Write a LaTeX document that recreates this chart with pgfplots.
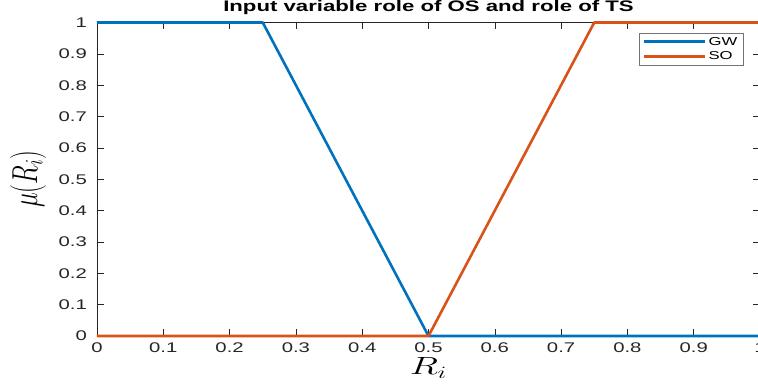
\documentclass[border=0pt]{standalone}
\usepackage{fontspec}
\setmainfont[FakeStretch=1.45]{Liberation Sans}
\usepackage{graphicx}
\usepackage{pgfplots}
\pgfplotsset{compat=1.18}
\definecolor{mblue}{RGB}{0,114,189}
\definecolor{morange}{RGB}{217,83,25}
\definecolor{axgray}{RGB}{38,38,38}
\begin{document}
\begin{tikzpicture}
\useasboundingbox (-97pt,-51pt) rectangle (661pt,336pt);
\begin{axis}[
  at={(0pt,0pt)}, anchor=south west,
  scale only axis, width=663pt, height=313.5pt,
  xmin=0, xmax=1, ymin=0, ymax=1,
  clip=false,
  xtick={0,0.1,0.2,0.3,0.4,0.5,0.6,0.7,0.8,0.9,1},
  ytick={0,0.1,0.2,0.3,0.4,0.5,0.6,0.7,0.8,0.9,1},
  xticklabels={0,0.1,0.2,0.3,0.4,0.5,0.6,0.7,0.8,0.9,1},
  yticklabels={0,0.1,0.2,0.3,0.4,0.5,0.6,0.7,0.8,0.9,1},
  tick pos=both, tick align=inside,
  major tick length=7pt,
  axis line style={axgray, line width=0.6pt},
  tick style={axgray, line width=0.6pt},
  ticklabel style={font=\fontsize{14}{16}\selectfont, text=axgray},
  xticklabel style={inner sep=0pt, anchor=north, yshift=-7pt},
  yticklabel style={inner sep=0pt, anchor=east, xshift=-10pt},
  title={Input variable role of OS and role of TS},
  title style={font=\fontsize{15.3}{18}\selectfont\bfseries, at={(0.5,1)}, anchor=base, yshift=5.2pt, inner sep=0pt},
  xlabel={\scalebox{1.5}[1]{$R_i$}},
  xlabel style={font=\fontsize{25}{28}\selectfont, at={(axis description cs:0.5,0)}, anchor=base, yshift=-39pt, inner sep=0pt},
  ylabel={\scalebox{1}[1.45]{$\mu(R_i)$}},
  ylabel style={font=\fontsize{26}{30}\selectfont, at={(axis description cs:0,0.5)}, rotate=0, anchor=center, xshift=0pt, yshift=69pt, inner sep=0pt},
  legend cell align=left,
  legend image code/.code={\draw[#1, line width=3pt] (0pt,0pt) -- (61pt,0pt);},
  legend style={at={(1,1)}, anchor=north east, xshift=-17pt, yshift=-10.5pt,
    draw=black!55, fill=white,
    font=\fontsize{11.5}{13}\selectfont,
    inner xsep=3pt, inner ysep=1.5pt,
    nodes={inner sep=2.5pt}},
]
\addplot[mblue, line width=2.6pt, line join=round] coordinates {(0,1) (0.25,1) (0.5,0) (1,0)};
\addlegendentry{GW}
\addplot[morange, line width=2.6pt, line join=round] coordinates {(0,0) (0.5,0) (0.75,1) (1,1)};
\addlegendentry{SO}
\end{axis}
\end{tikzpicture}
\end{document}
